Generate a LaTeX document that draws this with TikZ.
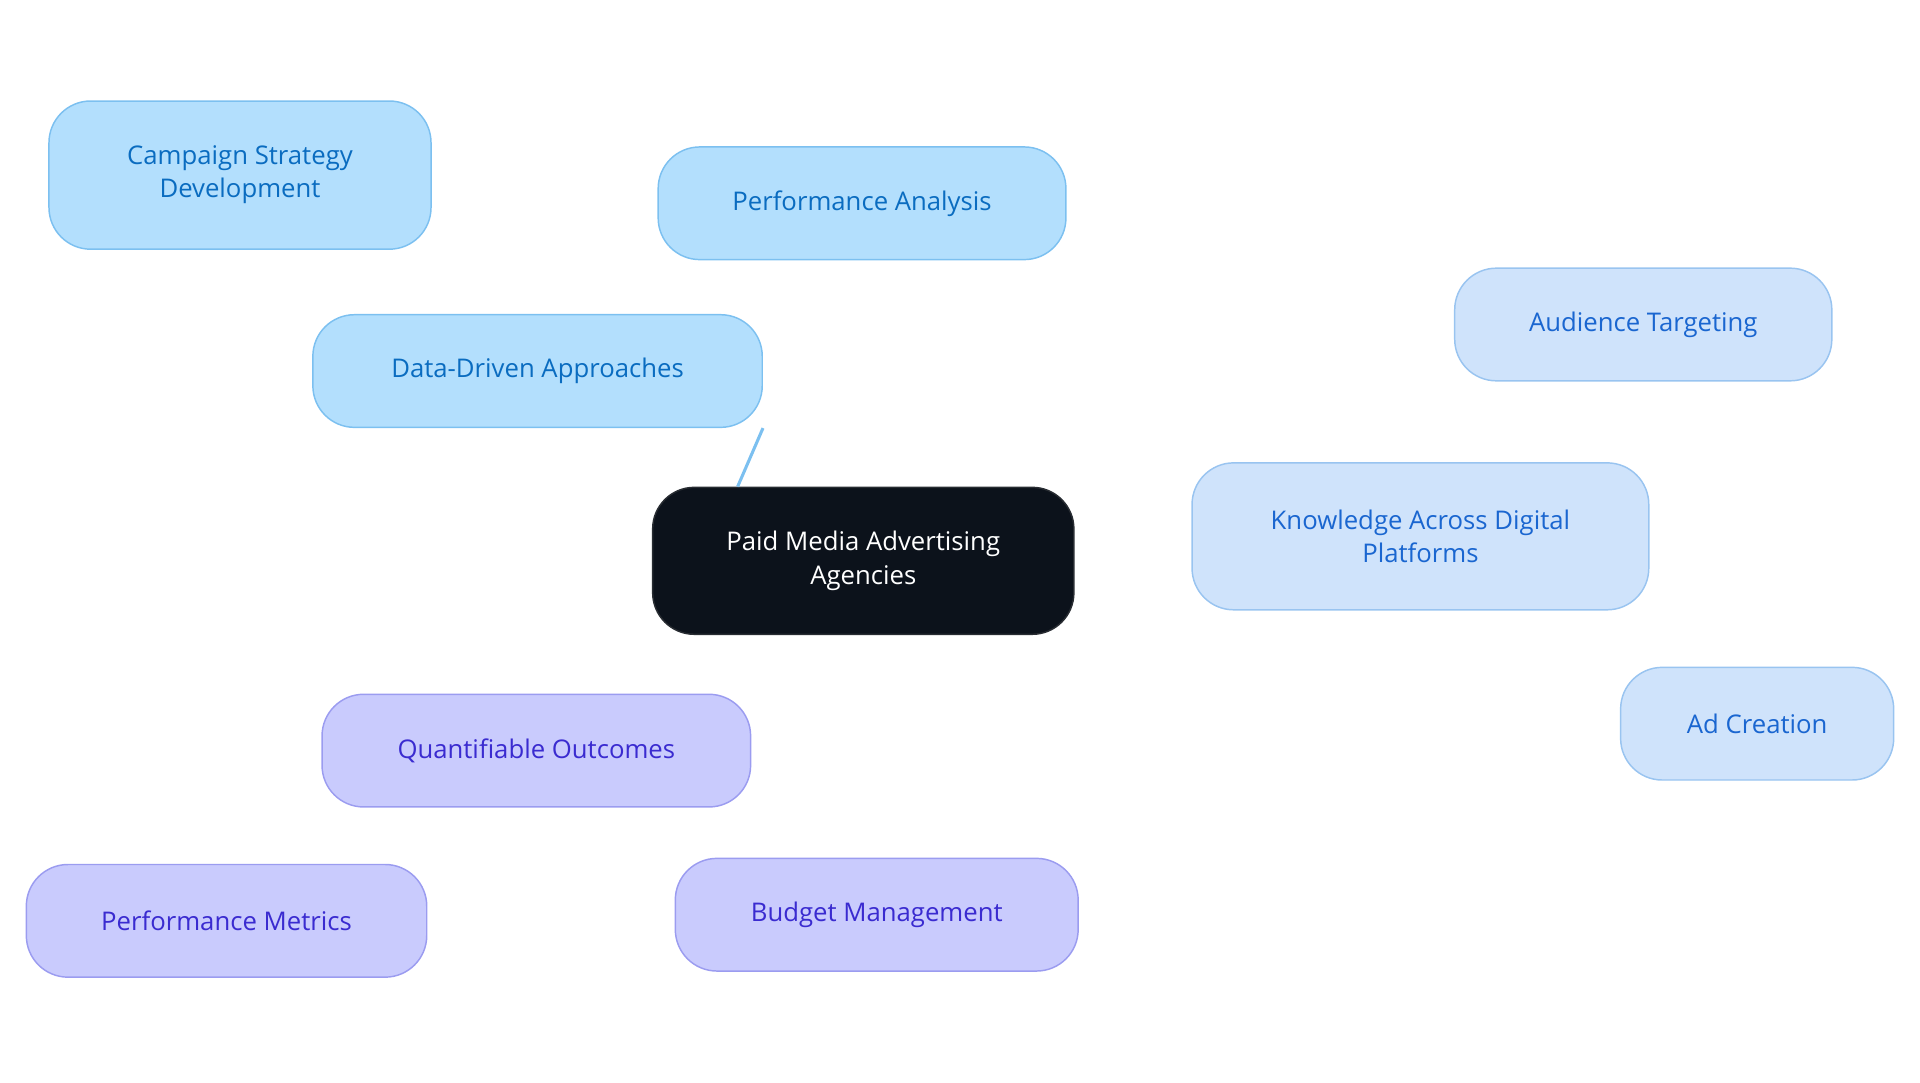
\documentclass[tikz,border=0pt]{standalone}
\usepackage{fontspec}
\setmainfont{Open Sans}
\begin{document}
\begin{tikzpicture}[x=1pt,y=-1pt,
 box/.style={draw,line width=1.2pt,rounded corners=34pt,align=center,font=\fontsize{21}{27}\selectfont,inner sep=0pt},
 b1/.style={box,fill=c1f,draw=c1d,text=c1t},
 b2/.style={box,fill=c2f,draw=c2d,text=c2t},
 b3/.style={box,fill=c3f,draw=c3d,text=c3t},
 e1/.style={draw=c1d,line width=2.5pt},
 e2/.style={draw=c2d,line width=2.5pt},
 e3/.style={draw=c3d,line width=2.5pt}]
\definecolor{c1f}{HTML}{B3DFFD}\definecolor{c1d}{HTML}{7CC0F0}\definecolor{c1t}{HTML}{0A6CC0}
\definecolor{c2f}{HTML}{CFE3FB}\definecolor{c2d}{HTML}{99C4F0}\definecolor{c2t}{HTML}{1A66D0}
\definecolor{c3f}{HTML}{C9CBFD}\definecolor{c3d}{HTML}{9B9CF0}\definecolor{c3t}{HTML}{3A2BD0}
\useasboundingbox (0,0) rectangle (1568,884);
\node[box,fill={rgb,255:red,12;green,18;blue,27},draw={rgb,255:red,40;green,44;blue,50},text=white,minimum width=344pt,minimum height=120pt] (c) at (705,458) {Paid Media Advertising\\Agencies};
\node[b1,minimum width=367pt,minimum height=92pt] (d) at (439,303) {Data-Driven Approaches};
\node[b1,minimum width=312pt,minimum height=121pt] (cs) at (196,143) {Campaign Strategy\\Development};
\node[b1,minimum width=333pt,minimum height=92pt] (pa) at (704,166) {Performance Analysis};
\node[b2,minimum width=373pt,minimum height=120pt] (k) at (1160,438) {Knowledge Across Digital\\Platforms};
\node[b2,minimum width=308pt,minimum height=92pt] (at) at (1342,265) {Audience Targeting};
\node[b2,minimum width=223pt,minimum height=92pt] (ac) at (1435,591) {Ad Creation};
\node[b3,minimum width=350pt,minimum height=92pt] (q) at (438,613) {Quantifiable Outcomes};
\node[b3,minimum width=327pt,minimum height=92pt] (pm) at (185,752) {Performance Metrics};
\node[b3,minimum width=329pt,minimum height=92pt] (bm) at (716,747) {Budget Management};
\begin{scope}[on background layer/.try]
\end{scope}
\draw[e1] (c.north west) ++(70,0) coordinate (x1) -- (d.south east) ++(0,0);
\end{tikzpicture}
\end{document}
